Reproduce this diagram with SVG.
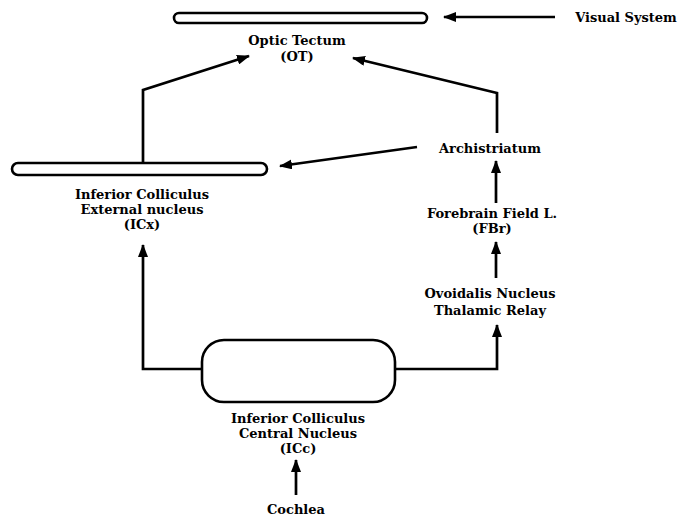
<svg xmlns="http://www.w3.org/2000/svg" width="694" height="519" viewBox="0 0 694 519">
<style>
.t{font-family:"DejaVu Serif","Liberation Serif",serif;font-weight:bold;font-size:13px;fill:#000;text-anchor:middle}
.n{fill:#fff;stroke:#000;stroke-width:2.6}
.c{fill:none;stroke:#000;stroke-width:2.7;stroke-linejoin:miter}
</style>
<defs>
<marker id="ah" viewBox="0 0 13 10" refX="12" refY="5" markerWidth="13" markerHeight="10" markerUnits="userSpaceOnUse" orient="auto">
<path d="M0,0 L13,5 L0,10 Z" fill="#000"/>
</marker>
</defs>
<g id="connectors">
<path class="c" d="M555,17 L444,17" marker-end="url(#ah)"/>
<path class="c" d="M143,163 L143,90 L249,56" marker-end="url(#ah)"/>
<path class="c" d="M497,133 L497,93 L353,58" marker-end="url(#ah)"/>
<path class="c" d="M417,147 L280,166" marker-end="url(#ah)"/>
<path class="c" d="M496,203 L496,161" marker-end="url(#ah)"/>
<path class="c" d="M496,278 L496,242" marker-end="url(#ah)"/>
<path class="c" d="M395,369 L497,369 L497,325" marker-end="url(#ah)"/>
<path class="c" d="M202,369 L143,369 L143,245" marker-end="url(#ah)"/>
<path class="c" d="M296,495 L296,460" marker-end="url(#ah)"/>
</g>
<g id="visual">
<text class="t" x="626" y="22">Visual System</text>
</g>
<g id="ot">
<rect class="n" x="174" y="13" width="253" height="10" rx="5"/>
<text class="t" x="297" y="45">Optic Tectum</text>
<text class="t" x="297" y="61">(OT)</text>
</g>
<g id="icx">
<rect class="n" x="12" y="163" width="255" height="12" rx="6"/>
<text class="t" x="142" y="199">Inferior Colliculus</text>
<text class="t" x="142" y="214">External nucleus</text>
<text class="t" x="142" y="229">(ICx)</text>
</g>
<g id="archistriatum">
<text class="t" x="490" y="153">Archistriatum</text>
</g>
<g id="fbr">
<text class="t" x="492" y="218">Forebrain Field L.</text>
<text class="t" x="492" y="233">(FBr)</text>
</g>
<g id="ovoidalis">
<text class="t" x="490" y="298">Ovoidalis Nucleus</text>
<text class="t" x="490" y="315">Thalamic Relay</text>
</g>
<g id="icc">
<rect class="n" x="202" y="340" width="193" height="62" rx="22"/>
<text class="t" x="298" y="423">Inferior Colliculus</text>
<text class="t" x="298" y="438">Central Nucleus</text>
<text class="t" x="298" y="453">(ICc)</text>
</g>
<g id="cochlea">
<text class="t" x="296" y="514">Cochlea</text>
</g>
</svg>
